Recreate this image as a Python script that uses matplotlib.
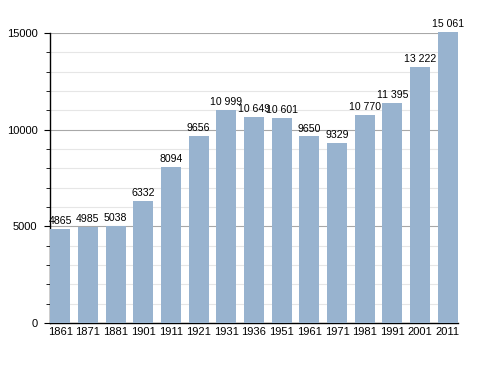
import matplotlib.pyplot as plt
from matplotlib.ticker import MultipleLocator

years = ["1861", "1871", "1881", "1901", "1911", "1921", "1931", "1936",
         "1951", "1961", "1971", "1981", "1991", "2001", "2011"]
population = [4865, 4985, 5038, 6332, 8094, 9656, 10999, 10649,
              10601, 9650, 9329, 10770, 11395, 13222, 15061]

plt.rcParams["font.family"] = ["Liberation Sans", "DejaVu Sans"]

fig = plt.figure(figsize=(4.88, 3.73), dpi=100)
ax = fig.add_axes([0.1025, 0.134, 0.836, 0.7775])

x = range(len(years))
ax.bar(x, population, width=0.73, color="#98b3cf", zorder=3, clip_on=False)

for i, v in enumerate(population):
    label = str(v) if v < 10000 else f"{v // 1000} {v % 1000:03d}"
    ax.text(i, v + 150, label, ha="center", va="bottom", fontsize=7.6, zorder=4)

ax.set_xlim(-0.37, len(years) - 0.63)
ax.set_ylim(0, 15000)
ax.set_xticks(list(x))
ax.set_xticklabels(years, fontsize=8)
ax.tick_params(axis="x", length=0, pad=3)

ax.yaxis.set_major_locator(MultipleLocator(5000))
ax.yaxis.set_minor_locator(MultipleLocator(1000))
ax.tick_params(axis="y", which="major", length=4, labelsize=8, pad=5)
ax.tick_params(axis="y", which="minor", length=3)
ax.grid(axis="y", which="major", color="#a8a8a8", linewidth=0.8, zorder=1)
ax.grid(axis="y", which="minor", color="#e6e6e6", linewidth=0.8, zorder=1)

for s in ["top", "right"]:
    ax.spines[s].set_visible(False)
ax.spines["left"].set_linewidth(1.0)
ax.spines["bottom"].set_linewidth(1.0)

fig.savefig("out.png", dpi=100)
